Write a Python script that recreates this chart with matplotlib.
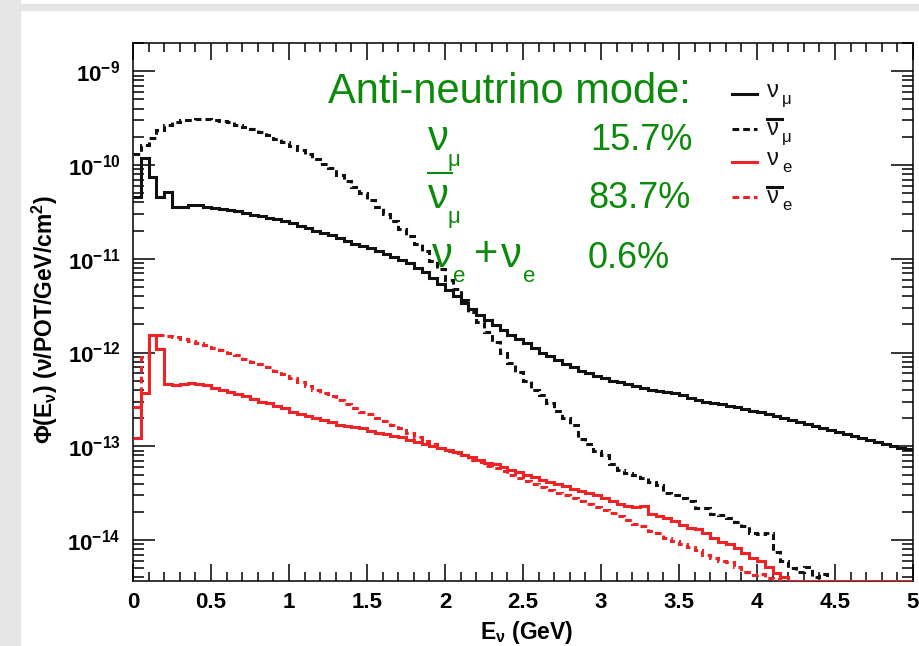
import numpy as np
import matplotlib
matplotlib.use("Agg")
import matplotlib.pyplot as plt
from matplotlib.lines import Line2D
from matplotlib.patches import Rectangle
from matplotlib.ticker import FixedLocator, FixedFormatter, MultipleLocator, NullFormatter

plt.rcParams['font.family'] = ['Liberation Sans', 'DejaVu Sans']
plt.rcParams['mathtext.fontset'] = 'custom'
plt.rcParams['mathtext.rm'] = 'Liberation Sans'
plt.rcParams['mathtext.it'] = 'Liberation Sans'
plt.rcParams['mathtext.bf'] = 'Liberation Sans:bold'

# ---------------- data ----------------
E_MIN, E_MAX, N_BINS = 0.0, 5.0, 100
edges = np.linspace(E_MIN, E_MAX, N_BINS + 1)

numu = [4.6e-11, 1.18e-10, 7.4e-11, 4.6e-11, 5.1e-11, 3.55e-11, 3.6e-11, 3.7e-11, 3.7e-11, 3.6e-11,
        3.5e-11, 3.4e-11, 3.3e-11, 3.2e-11, 3.1e-11, 2.95e-11, 2.85e-11, 2.75e-11, 2.65e-11, 2.5e-11,
        2.4e-11, 2.25e-11, 2.15e-11, 2.0e-11, 1.9e-11, 1.78e-11, 1.65e-11, 1.55e-11, 1.45e-11, 1.37e-11,
        1.3e-11, 1.2e-11, 1.12e-11, 1.05e-11, 9.8e-12, 9.0e-12, 8.0e-12, 7.2e-12, 6.3e-12, 5.4e-12,
        4.6e-12, 4.0e-12, 3.4e-12, 2.9e-12, 2.5e-12, 2.2e-12, 1.95e-12, 1.75e-12, 1.55e-12, 1.4e-12,
        1.25e-12, 1.12e-12, 1.0e-12, 9.2e-13, 8.3e-13, 7.6e-13, 7.0e-13, 6.4e-13, 6.0e-13, 5.6e-13,
        5.3e-13, 5.0e-13, 4.8e-13, 4.6e-13, 4.4e-13, 4.2e-13, 4.0e-13, 3.9e-13, 3.8e-13, 3.7e-13,
        3.5e-13, 3.3e-13, 3.15e-13, 3.0e-13, 2.9e-13, 2.8e-13, 2.7e-13, 2.6e-13, 2.5e-13, 2.4e-13,
        2.3e-13, 2.2e-13, 2.1e-13, 2.0e-13, 1.9e-13, 1.8e-13, 1.72e-13, 1.65e-13, 1.58e-13, 1.5e-13,
        1.42e-13, 1.35e-13, 1.28e-13, 1.22e-13, 1.17e-13, 1.1e-13, 1.05e-13, 1.0e-13, 9.6e-14, 9.3e-14]

numubar = [1.3e-10, 1.62e-10, 1.94e-10, 2.35e-10, 2.7e-10, 2.88e-10, 3.0e-10, 3.05e-10, 3.07e-10, 3.07e-10,
           3.05e-10, 2.95e-10, 2.85e-10, 2.7e-10, 2.55e-10, 2.4e-10, 2.25e-10, 2.1e-10, 1.9e-10, 1.75e-10,
           1.6e-10, 1.45e-10, 1.3e-10, 1.16e-10, 1.03e-10, 9.2e-11, 7.8e-11, 6.8e-11, 5.8e-11, 5.0e-11,
           4.2e-11, 3.6e-11, 3.0e-11, 2.5e-11, 2.1e-11, 1.75e-11, 1.45e-11, 1.2e-11, 9.5e-12, 7.8e-12,
           6.0e-12, 4.8e-12, 3.6e-12, 2.7e-12, 2.1e-12, 1.65e-12, 1.3e-12, 1.0e-12, 7.8e-13, 6.2e-13,
           5.0e-13, 4.0e-13, 3.5e-13, 2.9e-13, 2.4e-13, 2.0e-13, 1.7e-13, 1.2e-13, 1.05e-13, 9.0e-14,
           8.0e-14, 6.5e-14, 5.6e-14, 5.2e-14, 4.9e-14, 4.6e-14, 4.2e-14, 3.9e-14, 3.2e-14, 3.0e-14,
           2.8e-14, 2.6e-14, 2.2e-14, 2.2e-14, 1.9e-14, 1.85e-14, 1.7e-14, 1.55e-14, 1.4e-14, 1.2e-14,
           1.15e-14, 1.2e-14, 7.5e-15, 6.0e-15, 5.0e-15, 4.6e-15, 5.2e-15, 4.0e-15, 4.3e-15, 0,
           0, 0, 0, 0, 0, 0, 0, 0, 0, 0]

nue = [1.23e-13, 3.7e-13, 1.55e-12, 1.1e-12, 4.6e-13, 4.5e-13, 4.6e-13, 4.7e-13, 4.6e-13, 4.5e-13,
       4.2e-13, 4.0e-13, 3.8e-13, 3.6e-13, 3.4e-13, 3.2e-13, 3.0e-13, 2.9e-13, 2.7e-13, 2.55e-13,
       2.35e-13, 2.2e-13, 2.1e-13, 2.0e-13, 1.9e-13, 1.8e-13, 1.7e-13, 1.65e-13, 1.6e-13, 1.55e-13,
       1.45e-13, 1.4e-13, 1.35e-13, 1.3e-13, 1.25e-13, 1.18e-13, 1.1e-13, 1.05e-13, 1.0e-13, 9.6e-14,
       9.2e-14, 8.6e-14, 8.1e-14, 7.6e-14, 7.1e-14, 6.7e-14, 6.4e-14, 6.0e-14, 5.6e-14, 5.3e-14,
       5.0e-14, 4.7e-14, 4.4e-14, 4.2e-14, 4.0e-14, 3.8e-14, 3.5e-14, 3.3e-14, 3.15e-14, 3.0e-14,
       2.8e-14, 2.6e-14, 2.4e-14, 2.3e-14, 2.25e-14, 2.3e-14, 1.9e-14, 1.8e-14, 1.7e-14, 1.6e-14,
       1.45e-14, 1.35e-14, 1.3e-14, 1.2e-14, 1.05e-14, 9.5e-15, 9.0e-15, 8.2e-15, 7.2e-15, 6.5e-15,
       6.0e-15, 5.2e-15, 4.5e-15, 4.0e-15, 0, 0, 0, 0, 0, 0,
       0, 0, 0, 0, 0, 0, 0, 0, 0, 0]

nuebar = [2.6e-13, 9.0e-13, 1.55e-12, 1.52e-12, 1.5e-12, 1.45e-12, 1.4e-12, 1.33e-12, 1.27e-12, 1.2e-12,
          1.12e-12, 1.06e-12, 1.0e-12, 9.3e-13, 8.6e-13, 8.0e-13, 7.5e-13, 7.0e-13, 6.4e-13, 5.9e-13,
          5.3e-13, 4.8e-13, 4.4e-13, 4.0e-13, 3.7e-13, 3.4e-13, 3.1e-13, 2.8e-13, 2.55e-13, 2.35e-13,
          2.2e-13, 2.0e-13, 1.85e-13, 1.7e-13, 1.55e-13, 1.4e-13, 1.27e-13, 1.15e-13, 1.05e-13, 9.6e-14,
          9.0e-14, 8.5e-14, 8.0e-14, 7.2e-14, 6.8e-14, 6.2e-14, 5.8e-14, 5.4e-14, 5.0e-14, 4.6e-14,
          4.3e-14, 4.0e-14, 3.7e-14, 3.4e-14, 3.2e-14, 3.0e-14, 2.8e-14, 2.6e-14, 2.4e-14, 2.25e-14,
          2.1e-14, 1.95e-14, 1.8e-14, 1.65e-14, 1.5e-14, 1.4e-14, 1.25e-14, 1.2e-14, 1.05e-14, 9.8e-15,
          9.0e-15, 8.5e-15, 7.8e-15, 7.0e-15, 6.5e-15, 6.0e-15, 5.8e-15, 5.2e-15, 4.6e-15, 4.2e-15,
          4.3e-15, 3.9e-15, 3.8e-15, 0, 0, 0, 0, 0, 0, 0,
          0, 0, 0, 0, 0, 0, 0, 0, 0, 0]

fractions = ["15.7%", "83.7%", "0.6%"]
x_ticks = [0, 0.5, 1, 1.5, 2, 2.5, 3, 3.5, 4, 4.5, 5]
x_tick_labels = ["0", "0.5", "1", "1.5", "2", "2.5", "3", "3.5", "4", "4.5", "5"]
y_decades = [-14, -13, -12, -11, -10, -9]

Y_MIN, Y_MAX = 3.66e-15, 2.0e-9

# ---------------- figure ----------------
W, H = 920, 646
fig = plt.figure(figsize=(W / 100, H / 100), dpi=100)
fig.patch.set_facecolor('white')

def fx(px):
    return px / W

def fy(py):
    return 1 - py / H

GRAY = '#e6e6e6'
fig.patches.append(Rectangle((0, 0), fx(20), 1, transform=fig.transFigure, color=GRAY, zorder=0))
fig.patches.append(Rectangle((fx(20), fy(10)), 1, 6 / H, transform=fig.transFigure, color=GRAY, zorder=0))

ax = fig.add_axes([fx(133), fy(581), fx(913) - fx(133), fy(43) - fy(581)])
ax.set_yscale('log')
ax.set_xlim(E_MIN, E_MAX)
ax.set_ylim(Y_MIN, Y_MAX)

RED = '#ee2326'
BLACK = '#111111'
GREEN = '#0b8a0b'

def floor(v):
    v = np.asarray(v, dtype=float)
    return np.where(v > 0, v, Y_MIN)

dash = (0, (2.2, 1.3))
ax.stairs(floor(numu), edges, baseline=None, color=BLACK, lw=2.2, zorder=3)
ax.stairs(floor(numubar), edges, baseline=None, color=BLACK, lw=2.2, ls=dash, zorder=3)
ax.stairs(floor(nue), edges, baseline=None, color=RED, lw=2.2, zorder=4)
ax.stairs(floor(nuebar), edges, baseline=None, color=RED, lw=2.2, ls=dash, zorder=4)

# ticks
ax.xaxis.set_major_locator(FixedLocator(x_ticks))
ax.xaxis.set_major_formatter(FixedFormatter(x_tick_labels))
ax.xaxis.set_minor_locator(MultipleLocator(0.1))
ymaj = [10.0 ** d for d in y_decades]
ax.yaxis.set_major_locator(FixedLocator(ymaj))
ax.yaxis.set_major_formatter(FixedFormatter([r'$\mathbf{10^{%d}}$' % d for d in y_decades]))
ymin_t = [m * 10.0 ** d for d in range(-15, -8) for m in range(2, 10)]
ax.yaxis.set_minor_locator(FixedLocator(ymin_t))
ax.yaxis.set_minor_formatter(NullFormatter())

ax.tick_params(axis='x', which='major', direction='in', length=12, width=1.1, top=True,
               labelsize=16, pad=8)
ax.tick_params(axis='x', which='minor', direction='in', length=6.5, width=1.1, top=True)
ax.tick_params(axis='y', which='major', direction='in', length=16, width=1.1, right=True,
               labelsize=16, pad=9)
ax.tick_params(axis='y', which='minor', direction='in', length=8, width=1.1, right=True)
for lab in ax.get_xticklabels():
    lab.set_fontweight('bold')
for s in ax.spines.values():
    s.set_linewidth(1.1)

# axis titles
fig.text(fx(45), fy(320), r'$\mathbf{\Phi(E_{\nu})\ (\nu/POT/GeV/cm^{2})}$', rotation=90,
         ha='center', va='center', fontsize=16.5)
fig.text(fx(527), fy(632), r'$\mathbf{E_{\nu}\ (GeV)}$', ha='center', va='center', fontsize=16.5)

# green annotation
def t(x, y, s, size, color=GREEN, **kw):
    fig.text(fx(x), fy(y), s, fontsize=size, color=color, ha='left', va='baseline', **kw)

t(328, 103, "Anti-neutrino mode:", 30)
t(428, 150, "ν", 30); t(448, 166, "μ", 16); t(590, 150, fractions[0], 26)
fig.add_artist(Line2D([fx(428), fx(452)], [fy(173), fy(173)], color=GREEN, lw=1.5))
t(428, 208, "ν", 30); t(448, 223, "μ", 16); t(588, 208, fractions[1], 26)
t(432, 267, "ν", 30); t(453, 282, "e", 16); t(474, 266, "+", 30)
t(501, 267, "ν", 30); t(523, 282, "e", 16); t(588, 268, fractions[2], 26)

# legend
leg = [(94, BLACK, '-', 'μ', False), (129, BLACK, dash, 'μ', True),
       (162, RED, '-', 'e', False), (197, RED, dash, 'e', True)]
for y, c, ls, sub, bar in leg:
    fig.add_artist(Line2D([fx(732), fx(757)], [fy(y), fy(y)], color=c, lw=2.2, ls=ls))
    nb = y + 3 if not bar else y + 6
    t(767, nb, "ν", 17, color=BLACK)
    t(782, nb + 7, sub, 12, color=BLACK)
    if bar:
        fig.add_artist(Line2D([fx(767), fx(782)], [fy(nb - 16), fy(nb - 16)], color=BLACK, lw=2.2))

fig.savefig("out.png", dpi=100)
